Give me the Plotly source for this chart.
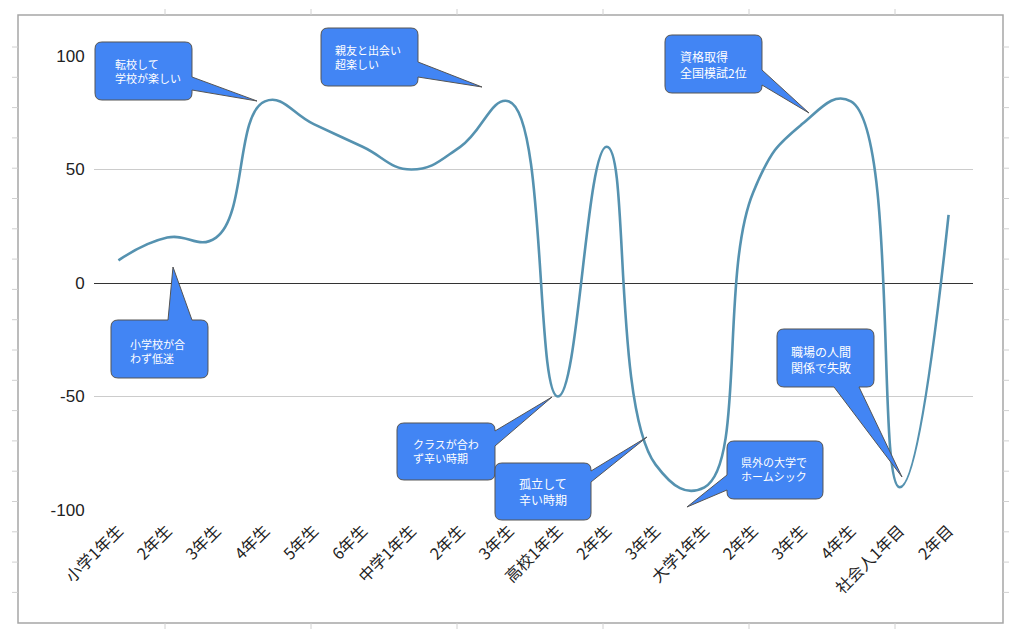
import plotly.graph_objects as go

# ---- data ----
categories = ["小学1年生", "2年生", "3年生", "4年生", "5年生", "6年生",
              "中学1年生", "2年生", "3年生", "高校1年生", "2年生", "3年生",
              "大学1年生", "2年生", "3年生", "4年生", "社会人1年目", "2年目"]
motivation = [10, 20, 20, 80, 70, 60, 50, 60, 80, -50, 60, -80, -90, 40, 70, 80, -90, 30]
y_ticks = [-100, -50, 0, 50, 100]
y_tick_labels = ["-100", "-50", "0", "50", "100"]

callout_texts = ["転校して<br>学校が楽しい", "親友と出会い<br>超楽しい", "資格取得<br>全国模試2位",
                 "小学校が合<br>わず低迷", "クラスが合わ<br>ず辛い時期", "孤立して<br>辛い時期",
                 "県外の大学で<br>ホームシック", "職場の人間<br>関係で失敗"]

# ---- layout geometry (pixels) ----
W, H = 1024, 639
PL, PR, PT, PB = 94, 973, 56, 510


def P(px, py):
    return (px - PL) / (PR - PL), (PB - py) / (PB - PT)


def pt(px, py):
    x, y = P(px, py)
    return f"{x:.5f},{y:.5f}"


def callout_path(x0, y0, x1, y1, side, b0, b1, tip, r=7):
    d = "M " + pt(x0 + r, y0)
    if side == "top":
        d += " L " + pt(b0, y0) + " L " + pt(*tip) + " L " + pt(b1, y0)
    d += " L " + pt(x1 - r, y0) + " Q " + pt(x1, y0) + " " + pt(x1, y0 + r)
    if side == "right":
        d += " L " + pt(x1, b0) + " L " + pt(*tip) + " L " + pt(x1, b1)
    d += " L " + pt(x1, y1 - r) + " Q " + pt(x1, y1) + " " + pt(x1 - r, y1)
    if side == "bottom":
        d += " L " + pt(b0, y1) + " L " + pt(*tip) + " L " + pt(b1, y1)
    d += " L " + pt(x0 + r, y1) + " Q " + pt(x0, y1) + " " + pt(x0, y1 - r)
    if side == "left":
        d += " L " + pt(x0, b0) + " L " + pt(*tip) + " L " + pt(x0, b1)
    d += " L " + pt(x0, y0 + r) + " Q " + pt(x0, y0) + " " + pt(x0 + r, y0) + " Z"
    return d


# box, wedge side, wedge base, tip, text-x, text-center-y, font size
callout_geo = [
    ((95, 42, 192, 100), "right", 77, 90, (257, 101), 113, 71, 11),
    ((321, 28, 418, 86), "right", 62, 77, (482, 87), 333, 57, 11),
    ((665, 35, 762, 93), "right", 70, 85, (809, 113), 678, 64, 12),
    ((111, 320, 208, 378), "top", 168, 192, (173, 267), 128, 351, 11),
    ((397, 423, 495, 480), "right", 431, 446, (552, 397), 411, 451, 11),
    ((495, 463, 591, 520), "right", 471, 482, (647, 437), 517, 491, 12),
    ((727, 441, 823, 499), "left", 490, 475, (687, 507), 739, 469, 11),
    ((777, 329, 874, 387), "bottom", 859, 834, (902, 477), 789, 359, 12),
]

fig = go.Figure()
fig.add_trace(go.Scatter(
    x=list(range(len(categories))), y=motivation,
    mode="lines", line=dict(color="#5592b0", width=2.6, shape="spline", smoothing=1.3),
    hoverinfo="skip", showlegend=False,
))

shapes = []
annotations = []

# outer frame and spreadsheet cell ticks
fx0, fy0 = P(18, 15)
fx1, fy1 = P(1003, 623)
shapes.append(dict(type="rect", xref="paper", yref="paper", x0=fx0, y0=fy0, x1=fx1, y1=fy1,
                   line=dict(color="#a6a6a6", width=1.5), layer="below"))
for k in range(19):
    yy = 47 + 30.3 * k
    for xa, xb in ((12, 18), (1003, 1009)):
        a = P(xa, yy)
        b = P(xb, yy)
        shapes.append(dict(type="line", xref="paper", yref="paper", x0=a[0], y0=a[1], x1=b[0], y1=b[1],
                           line=dict(color="#d0d0d0", width=1), layer="below"))
for k in range(6):
    xx = 165 + 146 * k
    for ya, yb in ((9, 15), (623, 629)):
        a = P(xx, ya)
        b = P(xx, yb)
        shapes.append(dict(type="line", xref="paper", yref="paper", x0=a[0], y0=a[1], x1=b[0], y1=b[1],
                           line=dict(color="#d0d0d0", width=1), layer="below"))

for txt, (box, side, b0, b1, tip, tx, ty, fs) in zip(callout_texts, callout_geo):
    shapes.append(dict(type="path", xref="paper", yref="paper",
                       path=callout_path(*box, side, b0, b1, tip),
                       fillcolor="#4285f4", line=dict(color="#555555", width=1), layer="above"))
    ax, ay = P(tx, ty)
    annotations.append(dict(xref="paper", yref="paper", x=ax, y=ay, xanchor="left", yanchor="middle",
                            text=txt, showarrow=False, align="left",
                            font=dict(color="white", size=fs,
                                      family="Noto Sans CJK JP, Liberation Sans, sans-serif")))

fig.update_layout(
    width=W, height=H,
    margin=dict(l=PL, r=W - PR, t=PT, b=H - PB, pad=0),
    paper_bgcolor="white", plot_bgcolor="white",
    font=dict(family="Liberation Sans, Noto Sans CJK JP, sans-serif", color="#222222", size=16),
    xaxis=dict(range=[-0.5, len(categories) - 0.5],
               tickmode="array", tickvals=list(range(len(categories))), ticktext=categories,
               tickangle=-45, showgrid=False, showline=False, zeroline=False,
               ticks="outside", ticklen=4, tickcolor="rgba(0,0,0,0)",
               tickfont=dict(size=16, family="Noto Sans CJK JP, sans-serif", color="#222222")),
    yaxis=dict(range=[-100, 100], tickmode="array", tickvals=y_ticks, ticktext=y_tick_labels,
               showgrid=True, gridcolor="#cccccc", gridwidth=1,
               zeroline=True, zerolinecolor="#333333", zerolinewidth=1.3,
               showline=False, ticks="outside", ticklen=5, tickcolor="rgba(0,0,0,0)",
               tickfont=dict(size=17, family="Liberation Sans, sans-serif", color="#222222")),
    shapes=shapes, annotations=annotations,
)

fig.write_html("out.html")
